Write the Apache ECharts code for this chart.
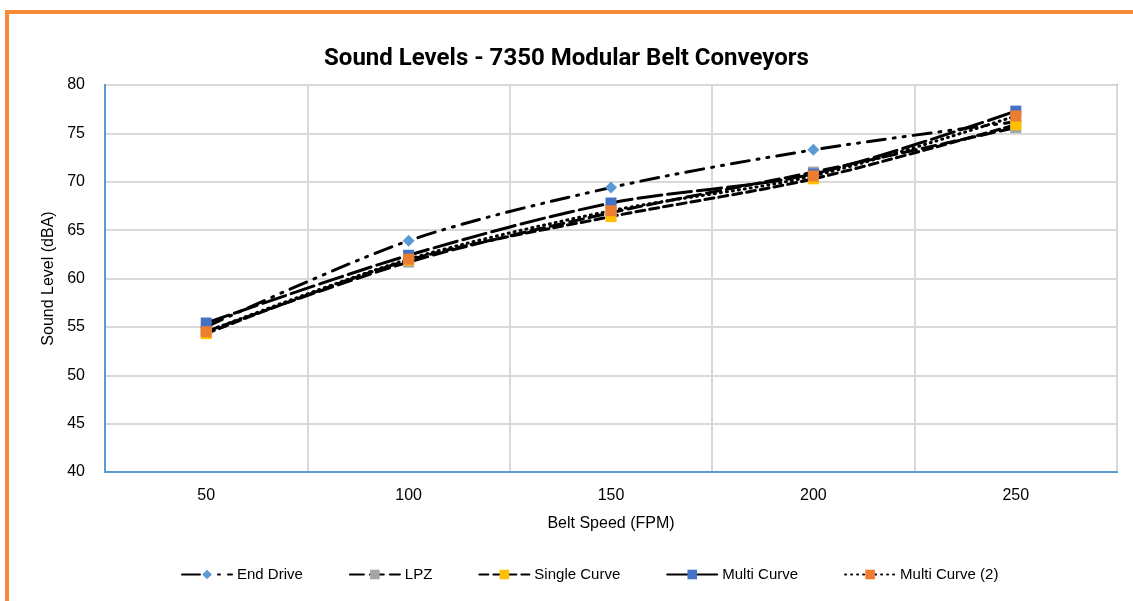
<!DOCTYPE html>
<html>
<head>
<meta charset="utf-8">
<script src="https://cdn.jsdelivr.net/npm/echarts@6/dist/echarts.min.js"></script>
<style>
  html, body { margin: 0; padding: 0; background: #fff; }
  .frame {
    position: absolute; left: 5px; top: 10px; width: 1128px; height: 591px;
    border-top: 4px solid #F58A38; border-left: 4px solid #F58A38;
    box-sizing: border-box;
  }
  #chart { position: absolute; left: 0; top: 0; width: 1133px; height: 601px; }
</style>
</head>
<body>
<div class="frame"></div>
<div id="chart"></div>
<script>
  // belt speeds (FPM)
  var speeds = ['50', '100', '150', '200', '250'];
  // sound levels dB(A)
  var endDrive = [55.0, 63.9, 69.4, 73.3, 76.2];
  var lpz = [54.5, 61.7, 66.8, 71.0, 75.6];
  var singleCurve = [54.3, 61.9, 66.4, 70.3, 75.9];
  var multiCurve = [55.4, 62.4, 67.8, 70.8, 77.3];
  var multiCurve2 = [54.5, 62.0, 67.0, 70.6, 76.8];

  var txt = 'Liberation Sans, Arial, sans-serif';

  function mkSeries(name, data, symbol, color, dash) {
    return {
      name: name,
      type: 'line',
      data: data,
      smooth: 0.3,
      symbol: symbol,
      symbolSize: symbol === 'diamond' ? 12 : 11,
      itemStyle: { color: color },
      lineStyle: { color: '#000', width: 3, type: dash, cap: 'round' }
    };
  }

  var chart = echarts.init(document.getElementById('chart'));
  chart.setOption({
    animation: false,
    title: {
      text: 'Sound Levels - 7350 Modular Belt Conveyors',
      left: 'center',
      top: 42,
      textStyle: { fontFamily: 'Roboto', fontWeight: 'bold', fontSize: 24, color: '#000' }
    },
    legend: {
      bottom: 14,
      left: 176,
      itemWidth: 50,
      itemHeight: 12,
      itemGap: 46,
      textStyle: { fontFamily: txt, fontSize: 15, color: '#000' },
      data: ['End Drive', 'LPZ', 'Single Curve', 'Multi Curve', 'Multi Curve (2)']
    },
    grid: {
      left: 105, right: 16, top: 85, bottom: 129,
      show: true, borderColor: '#5B9BD5', borderWidth: 2
    },
    xAxis: {
      type: 'category',
      data: speeds,
      boundaryGap: true,
      name: 'Belt Speed (FPM)',
      nameLocation: 'middle',
      nameGap: 44,
      nameTextStyle: { fontFamily: txt, fontSize: 16, color: '#000' },
      axisLine: { lineStyle: { color: '#5B9BD5', width: 2 } },
      axisTick: { show: false },
      axisLabel: { fontFamily: txt, fontSize: 16, color: '#000', margin: 16 },
      splitLine: { show: true, lineStyle: { color: '#d9d9d9', width: 2 } }
    },
    yAxis: {
      type: 'value',
      min: 40, max: 80, interval: 5,
      name: 'Sound Level (dBA)',
      nameLocation: 'middle',
      nameGap: 48,
      nameTextStyle: { fontFamily: txt, fontSize: 16, color: '#000' },
      axisLine: { show: true, lineStyle: { color: '#5B9BD5', width: 2 } },
      axisTick: { show: false },
      axisLabel: { fontFamily: txt, fontSize: 16, color: '#000', margin: 20 },
      splitLine: { lineStyle: { color: '#d9d9d9', width: 2 } }
    },
    series: [
      mkSeries('End Drive', endDrive, 'diamond', '#5B9BD5', [18, 8, 2, 8, 2, 8]),
      mkSeries('LPZ', lpz, 'rect', '#A5A5A5', [14, 6]),
      mkSeries('Single Curve', singleCurve, 'rect', '#FFC000', [9, 5]),
      mkSeries('Multi Curve', multiCurve, 'rect', '#4472C4', [24, 6]),
      mkSeries('Multi Curve (2)', multiCurve2, 'rect', '#ED7D31', [1, 5])
    ]
  });
</script>
</body>
</html>
